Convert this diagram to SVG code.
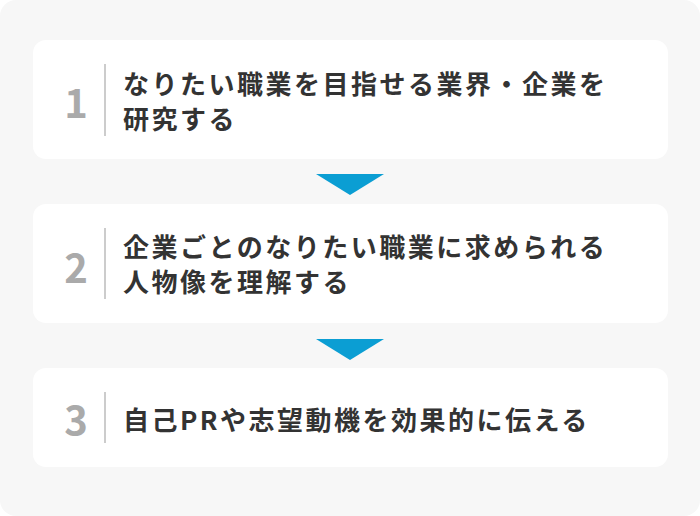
<svg xmlns="http://www.w3.org/2000/svg" width="700" height="516" viewBox="0 0 700 516">
<style>
.card{fill:#ffffff}
.num{font-family:"Noto Sans CJK JP","Noto Sans",sans-serif;font-weight:700;font-size:40px;fill:#aaaaaa;text-anchor:middle}
.div{stroke:#cccccc;stroke-width:2}
.txt{font-family:"Noto Sans CJK JP","Noto Sans",sans-serif;font-weight:700;font-size:26px;fill:#333333;letter-spacing:2.5px}
.arrow{fill:#0b9ed3}
</style>
<rect width="700" height="516" fill="#ffffff"/>
<rect x="0" y="0" width="700" height="516" rx="16" fill="#f7f7f7"/>
<g id="step1">
<rect class="card" x="33" y="40" width="635" height="119" rx="13"/>
<text class="num" x="76" y="118">1</text>
<line class="div" x1="105" y1="64" x2="105" y2="136"/>
<text class="txt" x="123" y="94">なりたい職業を目指せる業界・企業を</text>
<text class="txt" x="123" y="129">研究する</text>
</g>
<g id="step2">
<rect class="card" x="33" y="204" width="635" height="119" rx="13"/>
<text class="num" x="76" y="283">2</text>
<line class="div" x1="105" y1="228" x2="105" y2="299"/>
<text class="txt" x="123" y="257">企業ごとのなりたい職業に求められる</text>
<text class="txt" x="123" y="292">人物像を理解する</text>
</g>
<g id="step3">
<rect class="card" x="33" y="368" width="635" height="99" rx="13"/>
<text class="num" x="76" y="435">3</text>
<line class="div" x1="105" y1="392" x2="105" y2="443"/>
<text class="txt" x="123" y="430">自己PRや志望動機を効果的に伝える</text>
</g>
<g id="connectors">
<polygon class="arrow" points="316,174 384,174 350,195"/>
<polygon class="arrow" points="316,339 384,339 350,360"/>
</g>
</svg>
